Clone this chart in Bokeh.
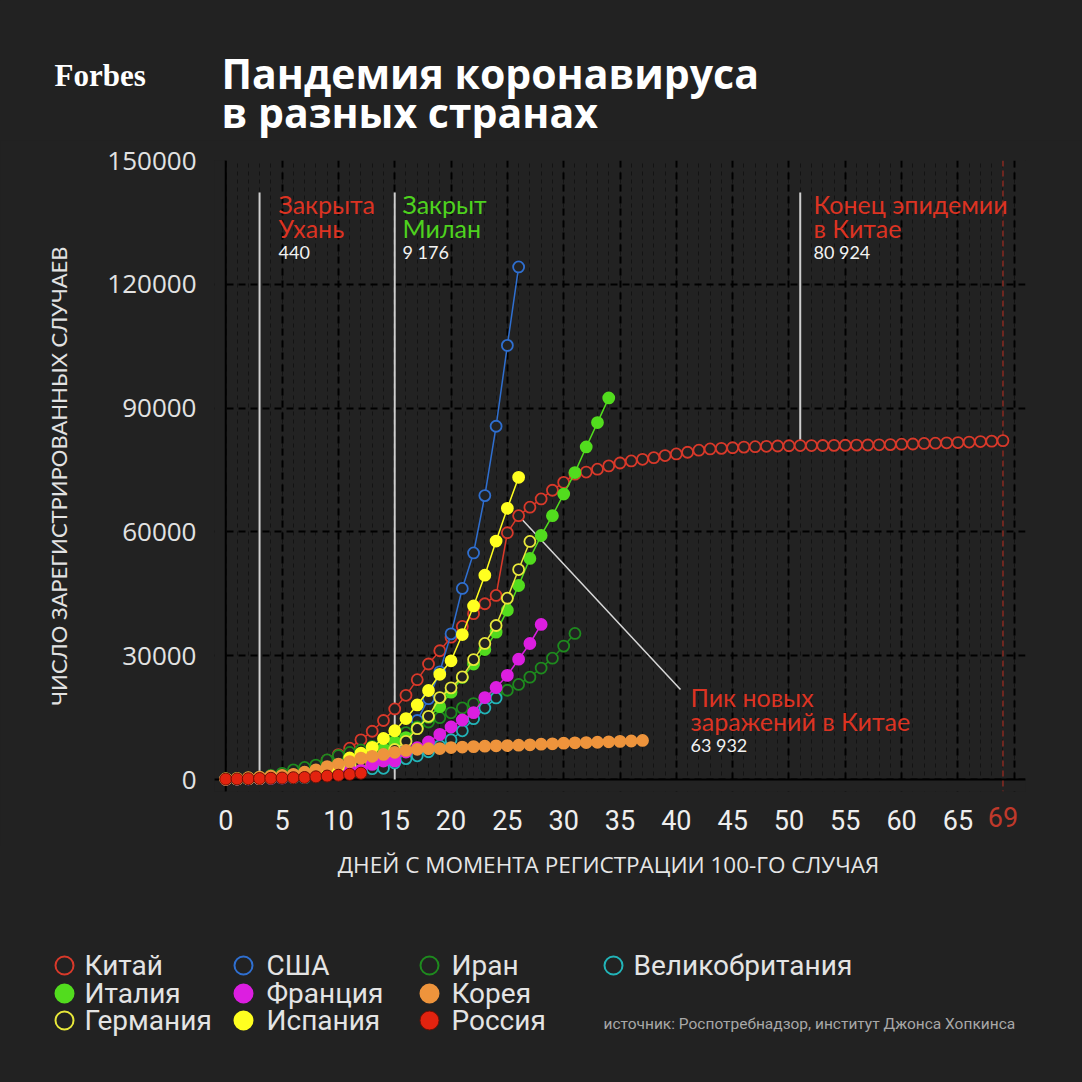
from bokeh.plotting import figure
from bokeh.models import (Range1d, FixedTicker, Label, Span, BoxAnnotation,
                          BasicTickFormatter, LinearAxis)
from bokeh.layouts import column
from bokeh.embed import file_html
from bokeh.resources import INLINE
from bokeh.core.properties import value

# ---------------- data (cumulative confirmed cases, day 0 = 100th case) ----------------
china = [200, 280, 330, 440, 580, 830, 1290, 2000, 2800, 4700,
         6050, 7600, 9620, 11700, 14300, 17100, 20400, 24200, 28000, 31200,
         34500, 37100, 40200, 42600, 44600, 59800, 63932, 66000, 68000, 70100,
         72000, 74000, 74500, 75200, 76000, 76700, 77200, 77600, 78000, 78500,
         78900, 79300, 79800, 80100, 80250, 80400, 80550, 80650, 80750, 80820,
         80880, 80924, 80932, 80945, 80977, 81003, 81033, 81058, 81102, 81156,
         81250, 81305, 81435, 81498, 81591, 81661, 81782, 81897, 81999, 82122]
usa = [100, 124, 158, 221, 319, 435, 541, 704, 994, 1301, 1630, 2183, 2770, 3613,
       4596, 6344, 9400, 14300, 19600, 26100, 35300, 46300, 54900, 68800, 85600,
       105200, 124200]
iran = [139, 245, 388, 593, 978, 1501, 2336, 2922, 3513, 4747, 5823, 6566, 7161, 8042,
        9000, 10075, 11364, 12729, 13938, 14991, 16169, 17361, 18407, 19644, 20610,
        21638, 23049, 24811, 27017, 29406, 32332, 35408]
uk = [116, 164, 207, 274, 322, 384, 459, 459, 802, 1144, 1145, 1551, 1960, 2642, 2716,
      4014, 5067, 5741, 6726, 8164, 9640, 11812, 14745, 17312, 19780]
italy = [155, 229, 322, 453, 655, 888, 1128, 1694, 2036, 2502, 3089, 3858, 4636, 5883,
         7375, 9176, 10149, 12462, 15113, 17660, 21157, 24747, 27980, 31506, 35713,
         41035, 47021, 53578, 59138, 63927, 69176, 74386, 80589, 86498, 92472]
germany = [130, 159, 196, 262, 482, 670, 799, 1040, 1176, 1457, 1908, 2078, 3675, 4585,
           5795, 7272, 9257, 12327, 15320, 19848, 22213, 24873, 29056, 32986, 37323,
           43938, 50871, 57695]
france = [100, 130, 191, 204, 288, 380, 656, 957, 1134, 1217, 1792, 2290, 2290, 3678,
          4487, 4523, 6668, 7699, 9105, 10947, 12726, 14431, 16214, 19856, 22304,
          25233, 29155, 32964, 37575]
spain = [120, 165, 222, 259, 400, 500, 673, 1073, 1695, 2277, 3146, 5232, 6391, 7798,
         9942, 11826, 14769, 18077, 21571, 25496, 28768, 35136, 42058, 49515, 57786,
         65719, 73235]
korea = [104, 204, 433, 602, 833, 977, 1261, 1766, 2337, 3150, 3736, 4335, 5186, 5621,
         6088, 6593, 7041, 7314, 7478, 7513, 7755, 7869, 7979, 8086, 8162, 8236, 8320,
         8413, 8565, 8652, 8799, 8897, 8961, 9037, 9137, 9241, 9332, 9478]
russia = [114, 147, 199, 253, 306, 367, 438, 495, 658, 840, 1036, 1264, 1534]

x_ticks = [0, 5, 10, 15, 20, 25, 30, 35, 40, 45, 50, 55, 60, 65]
last_day = 69
y_ticks = [0, 30000, 60000, 90000, 120000, 150000]

event_days = [3, 15, 51]
event_cases = [440, 9176, 80924]
event_titles = [["Закрыта", "Ухань"], ["Закрыт", "Милан"], ["Конец эпидемии", "в Китае"]]
event_numbers = ["440", "9 176", "80 924"]
peak_day, peak_cases = 26, 63932
peak_title = ["Пик новых", "заражений в Китае"]
peak_number = "63 932"

# ---------------- styles ----------------
BG = "#222222"
RED_TXT = "#dc3322"
GREEN_TXT = "#4ed21e"
series = [
    # name, values, color, filled
    ("Китай", china, "#d9392a", False),
    ("США", usa, "#2f6fd0", False),
    ("Иран", iran, "#1e8a1e", False),
    ("Великобритания", uk, "#22b4b8", False),
    ("Италия", italy, "#52dc1e", True),
    ("Германия", germany, "#e8e83a", False),
    ("Франция", france, "#dc1ee0", True),
    ("Испания", spain, "#ffff20", True),
    ("Корея", korea, "#ee943c", True),
    ("Россия", russia, "#e3230f", True),
]
legend_order = ["Китай", "Италия", "Германия", "США", "Франция", "Испания",
                "Иран", "Корея", "Россия", "Великобритания"]

W = 1082
H_HEAD, H_MAIN = 140, 705
H_LEG = W - H_HEAD - H_MAIN
TOP_MAIN = H_HEAD

# page-pixel helpers for annotation placement (main figure)
X0_PX, PX_PER_DAY = 225.26, 811 / 72
Y0_PX, CASES_PER_PX = 779.04, 152900 / 631


def dx(px):
    return (px - X0_PX) / PX_PER_DAY


def dy(py):
    return (Y0_PX - py) * CASES_PER_PX


def no_align(fig):
    try:
        fig.frame_align = False
    except Exception:
        pass


# ---------------- header ----------------
h = figure(width=W, height=H_HEAD, x_range=Range1d(0, W), y_range=Range1d(H_HEAD, 0),
           output_backend="svg", toolbar_location=None, min_border=0,
           x_axis_location=None, y_axis_location=None,
           background_fill_color=BG, border_fill_color=BG, outline_line_color=None)
h.grid.visible = False
no_align(h)
h.add_layout(Label(x=54, y=75, text="Forbes", text_color="#ffffff", text_font="Liberation Serif",
                   text_font_size="31px", text_font_style="bold", text_baseline="alphabetic"))
h.add_layout(Label(x=221, y=72, text="Пандемия коронавируса", text_color="#ffffff",
                   text_font="Open Sans", text_font_size="41px", text_font_style="bold",
                   text_baseline="alphabetic"))
h.add_layout(Label(x=221, y=111, text="в разных странах", text_color="#ffffff",
                   text_font="Open Sans", text_font_size="41px", text_font_style="bold",
                   text_baseline="alphabetic"))

# ---------------- main chart ----------------
p = figure(width=W, height=H_MAIN, x_range=Range1d(-1, 71), y_range=Range1d(-2900, 150000),
           output_backend="svg", toolbar_location=None,
           min_border_left=214, min_border_right=57, min_border_top=160 - TOP_MAIN,
           min_border_bottom=TOP_MAIN + H_MAIN - 791,
           background_fill_color=BG, border_fill_color=BG, outline_line_color=None)

p.xaxis.ticker = FixedTicker(ticks=x_ticks)
p.yaxis.ticker = FixedTicker(ticks=y_ticks)
p.yaxis.formatter = BasicTickFormatter(use_scientific=False)
for ax in (p.xaxis, p.yaxis):
    ax.axis_line_color = None
    ax.major_tick_line_color = None
    ax.minor_tick_line_color = None
    ax.axis_label_text_font_style = "normal"
p.xaxis.major_label_text_font = "Roboto"
p.xaxis.major_label_text_font_size = "27px"
p.xaxis.major_label_text_color = "#eeeeee"
p.xaxis.major_label_standoff = 12

p.yaxis.major_label_text_font = "Open Sans"
p.yaxis.major_label_text_font_size = "26px"
p.yaxis.major_label_text_color = "#e2e2e2"
p.yaxis.major_label_standoff = 12
p.yaxis.axis_label = "ЧИСЛО ЗАРЕГИСТРИРОВАННЫХ СЛУЧАЕВ"
p.yaxis.axis_label_text_font = "Lato"
p.yaxis.axis_label_text_font_size = "22px"
p.yaxis.axis_label_text_color = "#e2e2e2"
p.yaxis.axis_label_standoff = 32

# red "69" tick on a second bottom axis, pulled up onto the same row
ax69 = LinearAxis(ticker=FixedTicker(ticks=[last_day]), axis_line_color=None,
                  major_tick_line_color=None, minor_tick_line_color=None,
                  major_label_text_font="Roboto", major_label_text_font_size="27px",
                  major_label_text_color="#c0392b", major_label_standoff=-32)
p.add_layout(ax69, "below")

# grids
p.xgrid.ticker = FixedTicker(ticks=list(range(0, 71, 5)), minor_ticks=list(range(0, 72)))
p.xgrid.grid_line_color = "black"
p.xgrid.grid_line_width = 2
p.xgrid.grid_line_dash = "7 5"
p.xgrid.minor_grid_line_color = "#131313"
p.xgrid.minor_grid_line_width = 1
p.xgrid.minor_grid_line_dash = "4 4"
p.ygrid.ticker = FixedTicker(ticks=y_ticks)
p.ygrid.grid_line_color = "black"
p.ygrid.grid_line_width = 2
p.ygrid.grid_line_dash = "7 5"

p.add_layout(BoxAnnotation(right=0, fill_color=BG, fill_alpha=1, line_color=None, level="underlay"))
p.add_layout(BoxAnnotation(top=0, fill_color=BG, fill_alpha=1, line_color=None, level="underlay"))
p.add_layout(Span(location=0, dimension="height", line_color="black", line_width=2, level="underlay"))
p.add_layout(Span(location=0, dimension="width", line_color="black", line_width=2, level="underlay"))
p.add_layout(Span(location=last_day, dimension="height", line_color="#8a2b22", line_width=1.5,
                  line_dash="6 4", level="underlay"))

top_cases = dy(192)
p.segment(x0=event_days, y0=[0, 0, event_cases[2]], x1=event_days, y1=[top_cases] * 3,
          line_color="#cfcfcf", line_width=2)
p.segment(x0=[peak_day], y0=[peak_cases], x1=[dx(680)], y1=[dy(689)],
          line_color="#d8d8d8", line_width=1.5)

for name, vals, color, filled in series:
    days = list(range(len(vals)))
    p.line(days, vals, line_color=color, line_width=1.5)
    if name == "Россия":
        p.scatter(days, vals, size=12, marker="circle", fill_color=color,
                  line_color="#701005", line_width=1)
    else:
        p.scatter(days, vals, size=11, marker="circle",
                  fill_color=color if filled else BG,
                  line_color=color, line_width=1.8)


def lbl(px, py, text, color, size):
    p.add_layout(Label(x=dx(px), y=dy(py), text=text, text_color=color,
                       text_font="Lato", text_font_size=size, text_align="left",
                       text_baseline="middle"))


ev_px = [278, 402, 813]
ev_colors = [RED_TXT, GREEN_TXT, RED_TXT]
for i in range(3):
    lbl(ev_px[i], 204, event_titles[i][0], ev_colors[i], "25px")
    lbl(ev_px[i], 228, event_titles[i][1], ev_colors[i], "25px")
    lbl(ev_px[i], 252, event_numbers[i], "#f2f2f2", "18px")
lbl(690, 697, peak_title[0], RED_TXT, "25px")
lbl(690, 721, peak_title[1], RED_TXT, "25px")
lbl(690, 745, peak_number, "#f2f2f2", "18px")

# ---------------- bottom: axis title, legend, source ----------------
TOP_LEG = H_HEAD + H_MAIN
p2 = figure(width=W, height=H_LEG, x_range=Range1d(0, W), y_range=Range1d(W, TOP_LEG),
            output_backend="svg", toolbar_location=None, min_border=0,
            x_axis_location=None, y_axis_location=None,
            background_fill_color=BG, border_fill_color=BG, outline_line_color=None)
p2.grid.visible = False
no_align(p2)

p2.text([608], [864], text=["ДНЕЙ С МОМЕНТА РЕГИСТРАЦИИ 100-ГО СЛУЧАЯ"],
        text_font=value("Open Sans"), text_font_size=value("22.5px"), text_color="#e6e6e6",
        text_align="center", text_baseline="middle")

col_circle = [64, 243, 429, 613]
col_text = [84, 266, 451, 633]
row_y = [965, 993, 1020]
style = {s[0]: s for s in series}
for k, name in enumerate(legend_order):
    c, r = k // 3, k % 3
    _, _, color, filled = style[name]
    if name == "Россия":
        p2.scatter([col_circle[c]], [row_y[r]], size=19, marker="circle", fill_color=color,
                   line_color="#701005", line_width=1)
    else:
        p2.scatter([col_circle[c]], [row_y[r]], size=18, marker="circle",
                   fill_color=color if filled else BG, line_color=color, line_width=2)
    p2.text([col_text[c]], [row_y[r]], text=[name], text_font=value("Roboto"),
            text_font_size=value("28px"), text_color="#e4e4e4", text_baseline="middle")

p2.text([603], [1023], text=["источник: Роспотребнадзор, институт Джонса Хопкинса"],
        text_font=value("Roboto"), text_font_size=value("15.5px"), text_color="#a8a8a8",
        text_baseline="middle")

layout = column(h, p, p2, spacing=0)
html = file_html(layout, INLINE)
html = html.replace("<head>", "<head><style>html,body{background:#222222;}</style>", 1)
open("out.html", "w").write(html)
